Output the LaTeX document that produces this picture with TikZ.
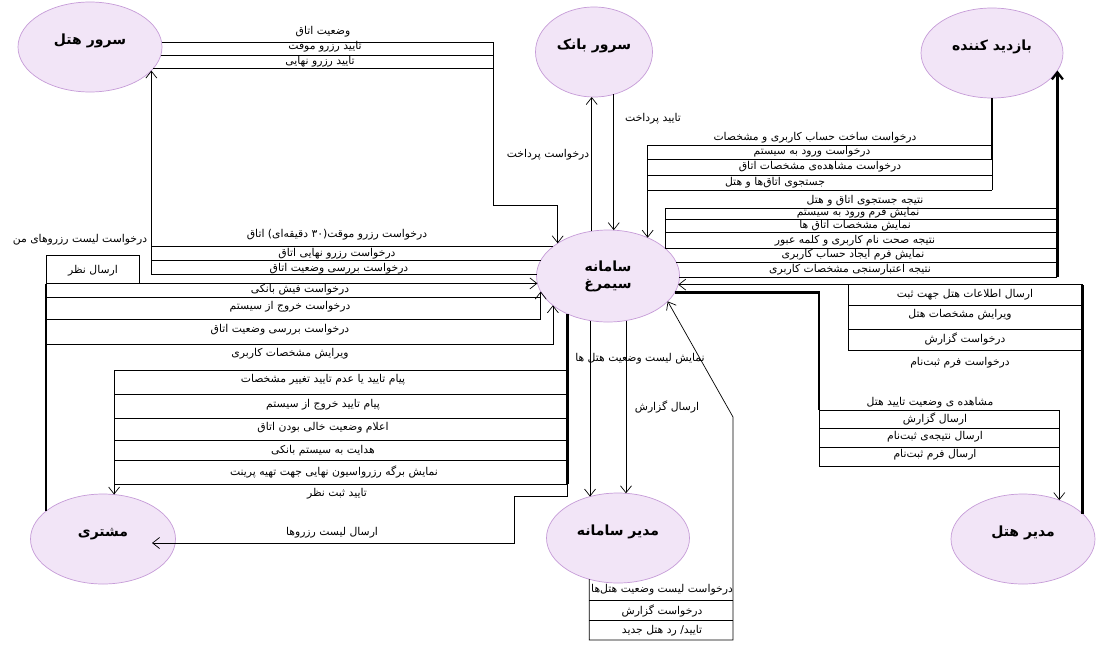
\documentclass[tikz,border=0pt]{standalone}
\usepackage{fontspec}
\setmainfont{DejaVu Sans}
\newfontfamily\persian[Script=Arabic]{DejaVu Sans}
\usepackage{xcolor}
\usetikzlibrary{arrows.meta, shapes.geometric, calc}
\TeXXeTstate=1
\newcommand{\rtl}[1]{\beginR #1\endR}
\definecolor{actorfill}{RGB}{242,229,247}
\definecolor{actorline}{RGB}{198,156,216}

\begin{document}
\begin{tikzpicture}[x=1pt, y=-1pt,
  actor/.style={ellipse, draw=actorline, fill=actorfill, line width=0.7pt,
    minimum width=144pt, minimum height=90pt, inner sep=0pt, outer sep=0pt,
    font=\persian\bfseries\fontsize{14}{17}\selectfont,
    text height=9pt, text depth=15pt, align=center},
  lbl/.style={inner sep=0pt, font=\persian\fontsize{10.8}{12}\selectfont},
  flow/.style={draw=black, line width=0.7pt},
  heavy/.style={draw=black, line width=2.3pt},
  tip/.style={-{Straight Barb[length=7pt, width=11pt]}}]

\fill[white] (0,0) rectangle (1099,645);
\useasboundingbox (0,0) rectangle (1099,645);

% -- Actors -----------------------------------------------------------------
\node[actor] (hotelsrv) at (90,47) {\rtl{سرور هتل}};
\node[actor, minimum width=117pt] (bank) at (594,52) {\rtl{سرور بانک}};
\node[actor, minimum width=142pt] (visitor) at (992,53) {\rtl{بازدید کننده}};
\node[actor, minimum width=143pt, minimum height=92pt, text height=, text depth=]
  (sys) at (608,276) {\rtl{سامانه}\\\rtl{سیمرغ}};
\node[actor, minimum width=145pt] (cust) at (103,539) {\rtl{مشتری}};
\node[actor, minimum width=143pt] (admin) at (618,538) {\rtl{مدیر سامانه}};
\node[actor] (hotelmgr) at (1023,539) {\rtl{مدیر هتل}};

% bend points
\coordinate (hotbus) at (493,205);
\coordinate (notebox) at (139,255);
\coordinate (listbend) at (514,496);
\coordinate (listend) at (152,543);
\coordinate (hmbus) at (848,284);
\coordinate (mgrbus) at (819,466);
\coordinate (adbus) at (733,417);

% -- Hotel server <-> system ------------------------------------------------
\draw[flow, tip] (hotelsrv.4.8) -| (hotbus) -| (sys.147.2);
\draw[flow] (hotelsrv.353.6) -- (hotelsrv.353.6 -| hotbus);
\draw[flow] (hotelsrv.341.8) -- (hotelsrv.341.8 -| hotbus);
\draw[flow, tip] (sys.179) -| (hotelsrv.339.7);
\draw[flow] (sys.167.5) -- (sys.167.5 -| hotelsrv.339.7);
\draw[flow] (sys.152.4) -- (sys.152.4 -| hotelsrv.339.7);

% -- Bank server <-> system -------------------------------------------------
\draw[flow, tip] (sys.110.8) -- (sys.110.8 |- bank.south);
\draw[flow, tip] (bank.295.3) -- (bank.295.3 |- sys.82.5);

% -- Visitor <-> system -----------------------------------------------------
\draw[heavy] (visitor.south) -- (visitor.south |- 0,159);
\draw[flow] (visitor.south |- 0,159) -- (visitor.south |- 0,190);
\foreach \y in {145,159,175,190}
  \draw[flow] (sys.44.7 |- 0,\y) -- (visitor.south |- 0,\y);
\draw[flow, tip] (sys.44.7 |- 0,145) -- (sys.44.7);

\draw[flow] (sys.26 |- 0,208) -- (sys.26);
\foreach \y in {208,219,232,248}
  \draw[flow] (sys.26 |- 0,\y) -- (visitor.345.9 |- 0,\y);
\draw[flow] (sys.11.6) -- (sys.11.6 -| visitor.345.9);
\draw[flow] (sys.359.2) -- (sys.359.2 -| visitor.345.9);
\draw[heavy, tip] (visitor.345.9 |- 0,277) -- (visitor.345.9);

% -- Hotel manager <-> system -----------------------------------------------
\draw[heavy] (hotelmgr.23.6) -- (hotelmgr.23.6 |- sys.353.5);
\draw[flow, tip] (sys.353.5 -| hotelmgr.23.6) -- (sys.353.5);
\draw[flow] (hmbus) -- (hmbus |- 0,350);
\foreach \y in {305,329,350}
  \draw[flow] (hmbus |- 0,\y) -- (hotelmgr.23.6 |- 0,\y);

\draw[heavy] (sys.346.6) -| (mgrbus |- 0,410);
\draw[flow] (mgrbus |- 0,410) -- (mgrbus);
\draw[flow, tip] (mgrbus |- 0,410) -| (hotelmgr.47.3);
\foreach \y in {428,447,466}
  \draw[flow] (mgrbus |- 0,\y) -- (hotelmgr.47.3 |- 0,\y);

% -- Customer <-> system ----------------------------------------------------
\draw[heavy] (cust.154) -- (cust.154 |- 0,284);
\draw[flow] (cust.154 |- 0,284) |- (notebox) -- (notebox |- 0,284);
\draw[flow, tip] (cust.154 |- sys.186.5) -- (sys.186.5);
\draw[flow] (cust.154 |- 0,297) -- (sys.193.4 |- 0,297);
\draw[flow, tip] (cust.154 |- 0,319) -| (sys.193.4);
\draw[flow, tip] (cust.154 |- 0,344) -| (sys.208.1);

\draw[heavy] (sys.223.6) -- (sys.223.6 |- 0,484);
\draw[flow, tip] (sys.223.6 |- 0,370) -| (cust.76.1);
\foreach \y in {394,418,440,460,484}
  \draw[flow] (cust.76.1 |- 0,\y) -- (sys.223.6 |- 0,\y);
\draw[flow, tip] (sys.223.6 |- 0,484) -- (sys.223.6 |- listbend) -- (listbend) |- (listend);

% -- System admin <-> system ------------------------------------------------
\draw[flow, tip] (sys.248) -- (sys.248 |- admin.124.3);
\draw[flow, tip] (sys.292) -- (sys.292 |- admin.79.7);
\draw[flow, tip] (admin.235.7) -- (admin.235.7 |- 0,640) -| (adbus) -- (sys.337.4);
\foreach \y in {600,620}
  \draw[flow] (admin.235.7 |- 0,\y) -- (adbus |- 0,\y);

% -- Labels -----------------------------------------------------------------
\node[lbl] (lroom) at (323,32) {\rtl{وضعیت اتاق}};
\node[lbl] (ltmpok) at (325,47) {\rtl{تایید رزرو موقت}};
\node[lbl] (lfinok) at (320,62) {\rtl{تایید رزرو نهایی}};

\node[lbl] (lpayok) at (653,119) {\rtl{تایید پرداخت}};
\node[lbl] (lpayreq) at (548,155) {\rtl{درخواست پرداخت}};

\node[lbl] (lsignup) at (815,138) {\rtl{درخواست ساخت حساب کاربری و مشخصات}};
\node[lbl] (llogin) at (812,152) {\rtl{درخواست ورود به سیستم}};
\node[lbl] (lroomview) at (820,167) {\rtl{درخواست مشاهده‌ی مشخصات اتاق}};
\node[lbl] (lsearch) at (775,183) {\rtl{جستجوی اتاق‌ها و هتل}};

\node[lbl] (lsearchres) at (865,201) {\rtl{نتیجه جستجوی اتاق و هتل}};
\node[lbl] (lloginform) at (858,213) {\rtl{نمایش فرم ورود به سیستم}};
\node[lbl] (lroominfo) at (855,226) {\rtl{نمایش مشخصات اتاق ها}};
\node[lbl] (lloginres) at (855,241) {\rtl{نتیجه صحت نام کاربری و کلمه  عبور}};
\node[lbl] (lsignform) at (853,255) {\rtl{نمایش فرم ایجاد حساب کاربری}};
\node[lbl] (lsignres) at (850,270) {\rtl{نتیجه اعتبارسنجی مشخصات کاربری}};

\node[lbl] (ltmpreq) at (337,235) {\rtl{درخواست رزرو موقت(۳۰ دقیقه‌ای) اتاق}};
\node[lbl] (lfinreq) at (337,254) {\rtl{درخواست رزرو نهایی اتاق}};
\node[lbl] (lcheckreq) at (339,269) {\rtl{درخواست بررسی وضعیت اتاق}};

\node[lbl] (lmylist) at (80,240) {\rtl{درخواست لیست رزروهای من}};
\node[lbl] (lnote) at (93,271) {\rtl{ارسال نظر}};
\node[lbl] (lreceipt) at (300,290) {\rtl{درخواست فیش بانکی}};
\node[lbl] (llogout) at (290,307) {\rtl{درخواست خروج از سیستم}};
\node[lbl] (lcheck) at (280,330) {\rtl{درخواست بررسی وضعیت اتاق}};
\node[lbl] (ledit) at (290,354) {\rtl{ویرایش مشخصات کاربری}};

\node[lbl] (leditres) at (323,380) {\rtl{پیام تایید یا عدم تایید تغییر مشخصات}};
\node[lbl] (llogoutres) at (323,405) {\rtl{پیام تایید خروج از سیستم}};
\node[lbl] (lfree) at (323,428) {\rtl{اعلام وضعیت خالی بودن اتاق}};
\node[lbl] (lbankgo) at (323,451) {\rtl{هدایت به سیستم بانکی}};
\node[lbl] (lprint) at (334,472) {\rtl{نمایش برگه رزرواسیون نهایی جهت تهیه پرینت}};
\node[lbl] (lnoteok) at (337,494) {\rtl{تایید ثبت نظر}};
\node[lbl] (llist) at (332,533) {\rtl{ارسال لیست رزروها}};

\node[lbl] (lhotlist) at (640,359) {\rtl{نمایش لیست وضعیت هتل ها}};
\node[lbl] (lreport) at (667,407) {\rtl{ارسال گزارش}};
\node[lbl] (lhotreq) at (662,590) {\rtl{درخواست لیست وضعیت هتل‌ها}};
\node[lbl] (lrepreq) at (662,611) {\rtl{درخواست گزارش}};
\node[lbl] (lapprove) at (662,631) {\rtl{تایید/ رد هتل جدید}};

\node[lbl] (lhotinfo) at (965,295) {\rtl{ارسال اطلاعات هتل جهت ثبت}};
\node[lbl] (lhotedit) at (960,315) {\rtl{ویرایش مشخصات هتل}};
\node[lbl] (lmgrrep) at (965,339) {\rtl{درخواست گزارش}};
\node[lbl] (lformreq) at (960,363) {\rtl{درخواست فرم ثبت‌نام}};
\node[lbl] (lstatus) at (930,403) {\rtl{مشاهده ی وضعیت تایید هتل}};
\node[lbl] (lmgrsend) at (935,419) {\rtl{ارسال گزارش}};
\node[lbl] (lregres) at (935,437) {\rtl{ارسال نتیجه‌ی ثبت‌نام}};
\node[lbl] (lregform) at (935,455) {\rtl{ارسال فرم ثبت‌نام}};

\end{tikzpicture}
\end{document}
